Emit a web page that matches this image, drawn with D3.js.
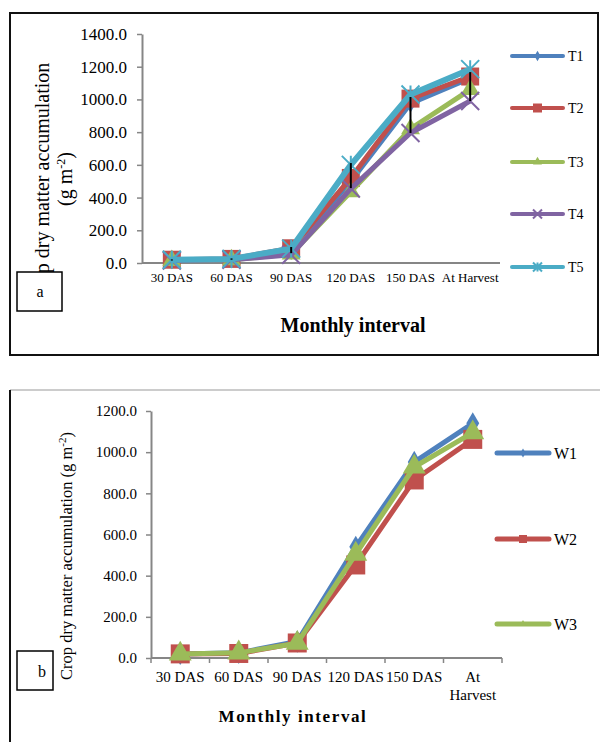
<!DOCTYPE html>
<html><head><meta charset="utf-8">
<script src="https://cdn.jsdelivr.net/npm/d3@7"></script>
<style>body{margin:0;background:#fff}svg{display:block}text{font-family:"Liberation Serif","Times New Roman",serif}</style>
</head><body>
<svg id="c" width="600" height="742"></svg>
<script>
// ---------- data ----------
const categories = ["30 DAS","60 DAS","90 DAS","120 DAS","150 DAS","At Harvest"];
const yTicksA = [0,200,400,600,800,1000,1200,1400];
const yTicksB = [0,200,400,600,800,1000,1200];
const seriesNamesA = ["T1","T2","T3","T4","T5"];
const T1 = [18, 22, 75, 500, 975, 1130];
const T2 = [20, 25, 90, 520, 1005, 1140];
const T3 = [15, 20, 55, 435, 820, 1060];
const T4 = [15, 20, 50, 455, 795, 990];
const T5 = [20, 25, 88, 600, 1030, 1185];
const errLowA  = [15, 20, 60, 458, 795, 990];
const errHighA = [22, 28, 98, 611, 1015, 1167];
const seriesNamesB = ["W1","W2","W3"];
const W1 = [20, 25, 80, 540, 952, 1140];
const W2 = [20, 22, 73, 452, 865, 1062];
const W3 = [20, 25, 72, 505, 928, 1095];

const colors = {T1:"#4F81BD",T2:"#C0504D",T3:"#9BBB59",T4:"#8064A2",T5:"#4BACC6",
                W1:"#4F81BD",W2:"#C0504D",W3:"#9BBB59"};
const shapes = {T1:"diamond",T2:"square",T3:"triangle",T4:"x",T5:"star",
                W1:"diamond",W2:"square",W3:"triangle"};

const svg = d3.select("#c");
const AX = "#868686";

function marker(g, shape, x, y, s, col, sw){
  if(shape==="x"||shape==="star"){
    const h=s/2;
    let p=`M${x-h},${y-h}L${x+h},${y+h}M${x-h},${y+h}L${x+h},${y-h}`;
    if(shape==="star") p+=`M${x},${y-h}L${x},${y+h}`;
    g.append("path").attr("d",p).attr("stroke",col).attr("stroke-width",sw).attr("fill","none");
  } else {
    const sym = shape==="diamond"?d3.symbolDiamond:shape==="square"?d3.symbolSquare:d3.symbolTriangle;
    const area = shape==="square"? s*s : shape==="diamond"? s*s*0.5 : s*s*0.43;
    g.append("path").attr("d",d3.symbol(sym,area)()).attr("transform",`translate(${x},${y})`)
      .attr("fill",col);
  }
}

// ---------- panel a ----------
svg.append("rect").attr("x",10).attr("y",13).attr("width",588).attr("height",342)
  .attr("fill","none").attr("stroke","#111").attr("stroke-width",2);

const xa = d3.scaleBand().domain(categories).range([142,500]);
const ya = d3.scaleLinear().domain([0,1400]).range([263,34]);
const ga = svg.append("g");
const yAxA = ga.append("g").attr("transform","translate(142,0)")
  .call(d3.axisLeft(ya).tickValues(yTicksA).tickFormat(d3.format(".1f")).tickSize(5).tickSizeOuter(0).tickPadding(10));
yAxA.select(".domain").attr("stroke",AX).attr("stroke-width",2);
yAxA.selectAll(".tick line").attr("stroke",AX).attr("stroke-width",1.5);
yAxA.selectAll("text").attr("font-size",17).attr("fill","#000").attr("font-family","Liberation Serif");
ga.append("line").attr("x1",142).attr("x2",500).attr("y1",ya(0)).attr("y2",ya(0)).attr("stroke",AX).attr("stroke-width",2);
ga.selectAll(".xl").data(categories).join("text")
  .attr("x",d=>xa(d)+xa.bandwidth()/2).attr("y",282).attr("text-anchor","middle")
  .attr("font-size",13).text(d=>d);

const dataA = {T1,T2,T3,T4,T5};
const line = (x,y)=>d3.line().x((d,i)=>x(categories[i])+x.bandwidth()/2).y(d=>y(d));
seriesNamesA.forEach(n=>{
  const g=ga.append("g");
  g.append("path").attr("d",line(xa,ya)(dataA[n])).attr("fill","none")
    .attr("stroke",colors[n]).attr("stroke-width",n==="T5"?6:5).attr("stroke-linejoin","round");
  dataA[n].forEach((v,i)=>marker(g,shapes[n],xa(categories[i])+xa.bandwidth()/2,ya(v),
     n==="T1"?14:n==="T3"?19:18,colors[n],2));
});
categories.forEach((c,i)=>{
  ga.append("line").attr("x1",xa(c)+xa.bandwidth()/2).attr("x2",xa(c)+xa.bandwidth()/2)
    .attr("y1",ya(errLowA[i])).attr("y2",ya(errHighA[i])).attr("stroke","#000").attr("stroke-width",2);
});
// legend a
const legYA=[56,108,162,214,267];
seriesNamesA.forEach((n,i)=>{
  const y=legYA[i];
  ga.append("line").attr("x1",512).attr("x2",563).attr("y1",y).attr("y2",y)
    .attr("stroke",colors[n]).attr("stroke-width",4).attr("stroke-linecap","round");
  marker(ga,shapes[n],537.5,y,n==="T1"?8:9,colors[n],2);
  ga.append("text").attr("x",568).attr("y",y+5).attr("font-size",14).text(n);
});
// y title a
const ta = ga.append("text").attr("transform","translate(49,183) rotate(-90)")
  .attr("text-anchor","middle").attr("font-size",20);
ta.append("tspan").attr("x",0).attr("y",0).text("Crop dry matter accumulation");
const t2 = ta.append("tspan").attr("x",4).attr("y",23).text("(g m");
t2.append("tspan").attr("font-size",12).attr("dy",-7).text("-2");
t2.append("tspan").attr("dy",7).text(")");
ga.append("rect").attr("x",17).attr("y",272).attr("width",45).attr("height",39)
  .attr("fill","#fff").attr("stroke","#000").attr("stroke-width",1.5);
ga.append("text").attr("x",40).attr("y",297).attr("text-anchor","middle").attr("font-size",16).text("a");
ga.append("text").attr("x",353).attr("y",332).attr("text-anchor","middle")
  .attr("font-size",20).attr("font-weight","bold").text("Monthly interval");

// ---------- panel b ----------
svg.append("line").attr("x1",10).attr("x2",600).attr("y1",390).attr("y2",390).attr("stroke","#bbb").attr("stroke-width",1.5);
svg.append("line").attr("x1",10).attr("x2",10).attr("y1",390).attr("y2",742).attr("stroke","#111").attr("stroke-width",2);

const xb = d3.scaleBand().domain(categories).range([151,502]);
const yb = d3.scaleLinear().domain([0,1200]).range([658,411]);
const gb = svg.append("g");
const yAxB = gb.append("g").attr("transform","translate(151,0)")
  .call(d3.axisLeft(yb).tickValues(yTicksB).tickFormat(d3.format(".1f")).tickSize(5).tickSizeOuter(0).tickPadding(9));
yAxB.select(".domain").attr("stroke",AX).attr("stroke-width",2);
yAxB.selectAll(".tick line").attr("stroke",AX).attr("stroke-width",1.5);
yAxB.selectAll("text").attr("font-size",15).attr("fill","#000").attr("font-family","Liberation Serif");
gb.append("line").attr("x1",151).attr("x2",502).attr("y1",yb(0)).attr("y2",yb(0)).attr("stroke",AX).attr("stroke-width",2);
categories.forEach((c,i)=>{
  const x=xb(c)+xb.bandwidth();
  gb.append("line").attr("x1",x).attr("x2",x).attr("y1",yb(0)).attr("y2",yb(0)+5).attr("stroke",AX).attr("stroke-width",1.5);
  if(i===0) gb.append("line").attr("x1",151).attr("x2",151).attr("y1",yb(0)).attr("y2",yb(0)+5).attr("stroke",AX).attr("stroke-width",1.5);
  const words = c==="At Harvest"?["At","Harvest"]:[c];
  words.forEach((w,k)=>gb.append("text").attr("x",xb(c)+xb.bandwidth()/2).attr("y",682+k*18)
    .attr("text-anchor","middle").attr("font-size",15).text(w));
});
const dataB = {W1,W2,W3};
seriesNamesB.forEach(n=>{
  const g=gb.append("g");
  g.append("path").attr("d",line(xb,yb)(dataB[n])).attr("fill","none")
    .attr("stroke",colors[n]).attr("stroke-width",5).attr("stroke-linejoin","round");
  dataB[n].forEach((v,i)=>marker(g,shapes[n],xb(categories[i])+xb.bandwidth()/2,yb(v),
     n==="W1"?17:n==="W2"?19:23,colors[n],2));
});
const legYB=[453,539,624];
seriesNamesB.forEach((n,i)=>{
  const y=legYB[i];
  gb.append("line").attr("x1",497).attr("x2",549).attr("y1",y).attr("y2",y)
    .attr("stroke",colors[n]).attr("stroke-width",5).attr("stroke-linecap","round");
  marker(gb,shapes[n],523,y,n==="W2"?8:7,colors[n],2);
  gb.append("text").attr("x",554).attr("y",y+6).attr("font-size",16).text(n);
});
const tb = gb.append("text").attr("transform","translate(72,556) rotate(-90)")
  .attr("text-anchor","middle").attr("font-size",16.5);
tb.append("tspan").text("Crop dry matter accumulation (g m");
tb.append("tspan").attr("font-size",11).attr("dy",-6).text("-2");
tb.append("tspan").attr("dy",6).text(")");
gb.append("rect").attr("x",17).attr("y",651).attr("width",36).attr("height",39)
  .attr("fill","#fff").attr("stroke","#000").attr("stroke-width",1.5);
gb.append("text").attr("x",42).attr("y",677).attr("text-anchor","middle").attr("font-size",16).text("b");
gb.append("text").attr("x",293).attr("y",722).attr("text-anchor","middle")
  .attr("font-size",17).attr("font-weight","bold").attr("letter-spacing",1.6).text("Monthly interval");
</script>
</body></html>
